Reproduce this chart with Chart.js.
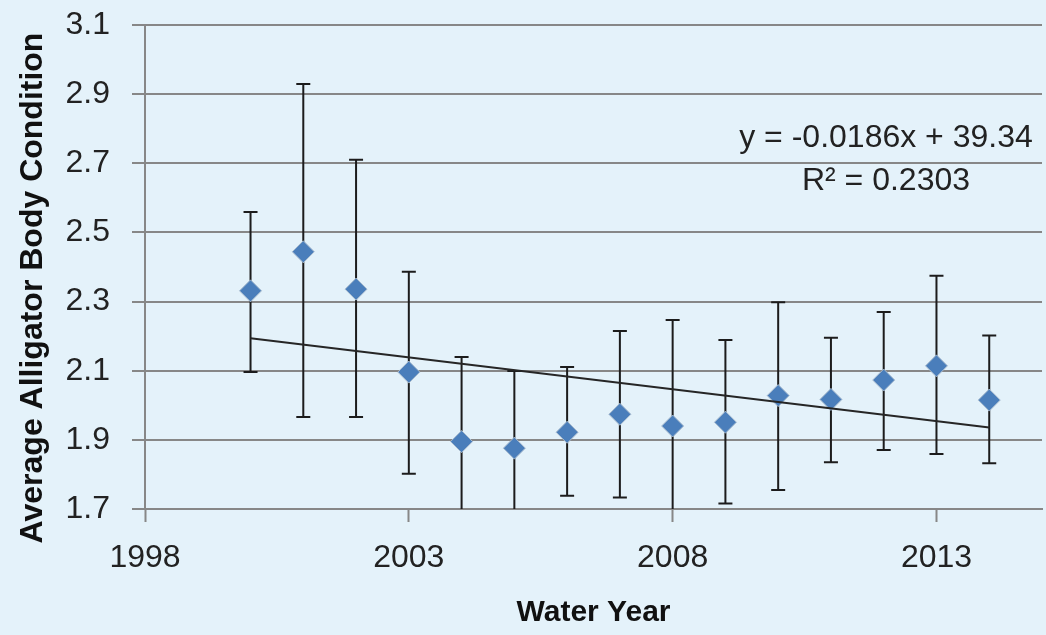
<!DOCTYPE html>
<html>
<head>
<meta charset="utf-8">
<script src="https://cdn.jsdelivr.net/npm/chart.js@4.4.1/dist/chart.umd.min.js"></script>
<style>
  html, body { margin: 0; padding: 0; background: #e4f2fa; }
  #wrap { width: 1046px; height: 635px; }
</style>
</head>
<body>
<div id="wrap"><canvas id="c" width="1046" height="635"></canvas></div>
<script>
// ---- data ----
const years = [2000, 2001, 2002, 2003, 2004, 2005, 2006, 2007, 2008, 2009, 2010, 2011, 2012, 2013, 2014];
const means = [2.331, 2.444, 2.336, 2.096, 1.895, 1.876, 1.922, 1.974, 1.940, 1.951, 2.028, 2.017, 2.073, 2.114, 2.015];
const upper = [2.559, 2.929, 2.710, 2.386, 2.140, 2.099, 2.111, 2.215, 2.247, 2.189, 2.298, 2.195, 2.270, 2.375, 2.202];
const lower = [2.096, 1.966, 1.966, 1.802, 1.650, 1.653, 1.738, 1.733, 1.633, 1.716, 1.755, 1.835, 1.871, 1.859, 1.832];
const trendYears = [2000, 2014];
const trendValues = [2.194, 1.936];
const xTickValues = [1998, 2003, 2008, 2013];
const yTickValues = [1.7, 1.9, 2.1, 2.3, 2.5, 2.7, 2.9, 3.1];
const equationLines = ["y = -0.0186x + 39.34", "R\u00B2 = 0.2303"];
const xTitle = "Water Year";
const yTitle = "Average Alligator Body Condition";

const FONT = "'Liberation Sans', Arial, sans-serif";
const TEXT = "#222222";
const GRID = "#878787";

const bgPlugin = {
  id: 'bg',
  beforeDraw(chart) {
    const ctx = chart.ctx;
    ctx.save();
    ctx.fillStyle = '#e4f2fa';
    ctx.fillRect(0, 0, chart.width, chart.height);
    ctx.restore();
  }
};

const errorBarPlugin = {
  id: 'errorBars',
  beforeDatasetsDraw(chart) {
    const { ctx, chartArea, scales } = chart;
    const xs = scales.x, ys = scales.y;
    ctx.save();
    ctx.beginPath();
    ctx.rect(chartArea.left, chartArea.top, chartArea.right - chartArea.left, chartArea.bottom - chartArea.top);
    ctx.clip();
    ctx.strokeStyle = '#1c1c1c';
    ctx.lineWidth = 2;
    const cap = 7;
    years.forEach((yr, i) => {
      const px = xs.getPixelForValue(yr);
      const pt = ys.getPixelForValue(upper[i]);
      const pb = ys.getPixelForValue(lower[i]);
      ctx.beginPath();
      ctx.moveTo(px, pt); ctx.lineTo(px, pb);
      ctx.moveTo(px - cap, pt); ctx.lineTo(px + cap, pt);
      ctx.moveTo(px - cap, pb); ctx.lineTo(px + cap, pb);
      ctx.stroke();
    });
    ctx.restore();
  }
};

const textPlugin = {
  id: 'texts',
  afterDraw(chart) {
    const { ctx } = chart;
    ctx.save();
    ctx.fillStyle = TEXT;
    // trendline equation
    ctx.font = "32px " + FONT;
    ctx.textAlign = 'center';
    ctx.textBaseline = 'alphabetic';
    ctx.fillText(equationLines[0], 886, 147);
    ctx.fillText(equationLines[1], 886, 190);
    // y axis title
    ctx.fillStyle = '#111';
    ctx.font = "bold 32px " + FONT;
    ctx.translate(33, 288);
    ctx.rotate(-Math.PI / 2);
    ctx.textBaseline = 'middle';
    ctx.fillText(yTitle, 0, 0);
    ctx.restore();
  }
};

new Chart(document.getElementById('c'), {
  type: 'scatter',
  data: {
    datasets: [
      {
        label: 'Trend',
        data: trendYears.map((x, i) => ({ x, y: trendValues[i] })),
        showLine: true,
        borderColor: '#262626',
        borderWidth: 2,
        pointRadius: 0,
        fill: false,
        order: 0
      },
      {
        label: 'Average',
        data: years.map((x, i) => ({ x, y: means[i] })),
        pointStyle: 'rectRot',
        pointRadius: 11,
        pointBackgroundColor: '#4a7ebb',
        pointBorderColor: '#a9bccf',
        pointBorderWidth: 1,
        order: 1
      }
    ]
  },
  options: {
    responsive: false,
    animation: false,
    events: [],
    layout: { autoPadding: false, padding: { top: 25, right: 4, left: 0, bottom: 0 } },
    plugins: {
      legend: { display: false },
      tooltip: { enabled: false },
      title: { display: false }
    },
    scales: {
      x: {
        type: 'linear',
        min: 1998,
        max: 2015,
        afterBuildTicks: (s) => { s.ticks = xTickValues.map(v => ({ value: v })); },
        afterFit: (s) => { s.height = 126; s.paddingLeft = 0; s.paddingRight = 0; },
        grid: {
          drawOnChartArea: false,
          drawTicks: true,
          tickLength: 13,
          tickColor: GRID,
          tickWidth: 2
        },
        border: { display: true, color: GRID, width: 2 },
        ticks: {
          color: TEXT,
          font: { family: FONT, size: 32 },
          padding: 17,
          maxRotation: 0,
          callback: (v) => String(v)
        },
        title: {
          display: true,
          text: xTitle,
          color: '#111',
          font: { family: FONT, size: 30, weight: 'bold' },
          padding: { top: 0, bottom: 4 }
        }
      },
      y: {
        type: 'linear',
        min: 1.7,
        max: 3.1,
        afterBuildTicks: (s) => { s.ticks = yTickValues.map(v => ({ value: v })); },
        afterFit: (s) => { s.width = 145; s.paddingTop = 0; s.paddingBottom = 0; },
        grid: {
          color: GRID,
          lineWidth: 2,
          drawTicks: true,
          tickLength: 13,
          tickColor: GRID,
          tickWidth: 2
        },
        border: { display: true, color: GRID, width: 2 },
        ticks: {
          color: TEXT,
          font: { family: FONT, size: 32 },
          padding: 22,
          callback: (v) => Number(v).toFixed(1)
        }
      }
    }
  },
  plugins: [bgPlugin, errorBarPlugin, textPlugin]
});
</script>
</body>
</html>
